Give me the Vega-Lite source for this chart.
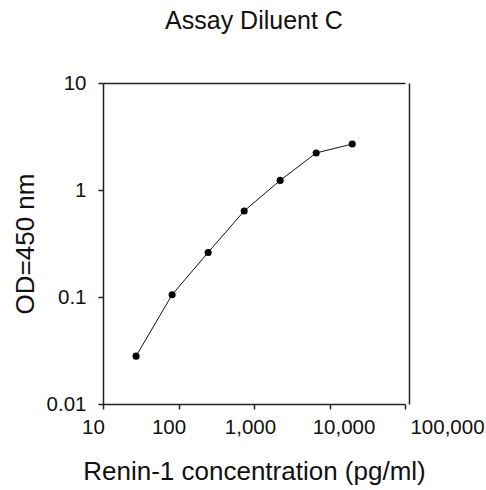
{
  "$schema": "https://vega.github.io/schema/vega-lite/v6.json",
  "autosize": "none",
  "width": 302,
  "height": 321,
  "padding": {"left": 103, "top": 83, "right": 81, "bottom": 86},
  "background": "white",
  "config": {
    "view": {"stroke": null},
    "font": "Liberation Sans",
    "axis": {"labelFont": "Liberation Sans", "titleFont": "Liberation Sans", "labelColor": "#111", "titleColor": "#111", "domainColor": "#222", "tickColor": "#222", "grid": false}
  },
  "title": {"text": "Assay Diluent C", "fontSize": 25, "font": "Liberation Sans", "fontWeight": "normal", "color": "#111", "baseline": "alphabetic", "offset": 19, "anchor": "middle"},
  "data": {"values": [
    {"conc": 27.4, "od": 0.028},
    {"conc": 82.3, "od": 0.105},
    {"conc": 247, "od": 0.261},
    {"conc": 741, "od": 0.637},
    {"conc": 2222, "od": 1.23},
    {"conc": 6667, "od": 2.22},
    {"conc": 20000, "od": 2.69}
  ]},
  "layer": [
    {
      "mark": {"type": "line", "color": "#111", "strokeWidth": 1},
      "encoding": {
        "x": {"field": "conc", "type": "quantitative", "scale": {"type": "log", "domain": [10, 100000], "nice": false},
          "axis": {"orient": "bottom", "title": "Renin-1 concentration (pg/ml)", "titleFontSize": 26, "titleFontWeight": "normal", "titlePadding": 21,
            "values": [10, 100, 1000, 10000, 100000], "format": ",", "labelFontSize": 20.5, "labelPadding": 8, "tickSize": 5, "tickWidth": 1.5, "domainWidth": 1.5,
            "labelOverlap": false, "labelFlush": false, "labelBound": false,
            "labelOffset": {"condition": [
              {"test": "datum.value == 10", "value": -10},
              {"test": "datum.value == 100", "value": -10},
              {"test": "datum.value == 1000", "value": -4},
              {"test": "datum.value == 10000", "value": 14}
            ], "value": 42}}},
        "y": {"field": "od", "type": "quantitative", "scale": {"type": "log", "domain": [0.01, 10], "nice": false},
          "axis": {"orient": "left", "title": "OD=450 nm", "titleFontSize": 26, "titleFontWeight": "normal", "titlePadding": 8,
            "values": [0.01, 0.1, 1, 10], "format": "~g", "labelFontSize": 20.5, "labelPadding": 12, "tickSize": 5, "tickWidth": 1.5, "domainWidth": 1.5,
            "labelOverlap": false, "labelFlush": false, "labelBound": false}}
      }
    },
    {
      "mark": {"type": "point", "filled": true, "color": "#000", "size": 50, "opacity": 1},
      "encoding": {
        "x": {"field": "conc", "type": "quantitative", "scale": {"type": "log", "domain": [10, 100000], "nice": false},
          "axis": {"orient": "top", "title": null, "labels": false, "ticks": false, "domainWidth": 1.5}},
        "y": {"field": "od", "type": "quantitative", "scale": {"type": "log", "domain": [0.01, 10], "nice": false},
          "axis": {"orient": "right", "title": null, "labels": false, "ticks": false, "offset": 4, "domainWidth": 1.5}}
      }
    }
  ],
  "resolve": {"axis": {"x": "independent", "y": "independent"}}
}
